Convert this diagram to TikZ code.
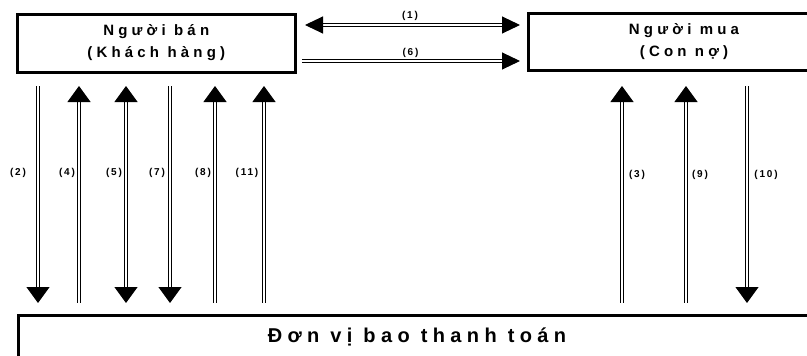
\documentclass[tikz,border=0pt]{standalone}
\usepackage{fontspec}
\setmainfont{Liberation Sans}
\newfontfamily\spacedtitle[LetterSpace=28]{Liberation Sans}
\newfontfamily\spacedbig[LetterSpace=27]{Liberation Sans}
\newfontfamily\spacedlabel[LetterSpace=18]{Liberation Sans}
\usetikzlibrary{arrows.meta}

\tikzset{
  box/.style={draw, line width=3pt, inner sep=0pt, align=center},
  titletext/.style={font=\spacedtitle\bfseries\fontsize{15}{22}\selectfont},
  bigtext/.style={font=\spacedbig\bfseries\fontsize{20}{22}\selectfont},
  lab/.style={font=\spacedlabel\bfseries\fontsize{10}{10}\selectfont, inner sep=0pt},
  flow/.style={draw, double, double distance=1.3pt, line width=1pt},
  vflow/.style={flow, >={Triangle[width=23pt,length=16pt]}},
  hflow/.style={flow, >={Triangle[width=17pt,length=18pt]}}
}

\begin{document}
\begin{tikzpicture}[x=1pt,y=-1pt]
\useasboundingbox (0,0) rectangle (807,356);

% the three parties
\node[box, titletext, minimum width=278.5pt, minimum height=58pt]
  (seller) at (156.25,43) {Người bán\\(Khách hàng)};
\node[box, titletext, minimum width=312pt, minimum height=57pt]
  (buyer) at (684,41.5) {Người mua\\(Con nợ)};
\node[box, bigtext, minimum width=798pt, minimum height=44pt]
  (factor) at (417,337) {Đơn vị bao thanh toán};

% end points of the horizontal flows
\coordinate (h1a) at (305,25);  \coordinate (h1b) at (520,25);
\coordinate (h6a) at (302,61);  \coordinate (h6b) at (520,61);

\draw[hflow,<->] (h1a) -- (h1b);
\draw[hflow,->]  (h6a) -- (h6b);
\node[lab] (l1) at (410,16)   {(1)};
\node[lab] (l6) at (410.5,52.5) {(6)};

% end points of the vertical flows
\foreach \n/\x in {2/38,4/79,5/126,7/170,8/215,11/264,3/622,9/686,10/747}{
  \coordinate (t\n) at (\x,86);
  \coordinate (b\n) at (\x,303);
}

\draw[vflow,->]  (t2)  -- (b2);
\draw[vflow,<-]  (t4)  -- (b4);
\draw[vflow,<->] (t5)  -- (b5);
\draw[vflow,->]  (t7)  -- (b7);
\draw[vflow,<-]  (t8)  -- (b8);
\draw[vflow,<-]  (t11) -- (b11);
\draw[vflow,<-]  (t3)  -- (b3);
\draw[vflow,<-]  (t9)  -- (b9);
\draw[vflow,->]  (t10) -- (b10);

% flow numbers
\node[lab] (l2)  at (18,173)  {(2)};
\node[lab] (l4)  at (67,173)  {(4)};
\node[lab] (l5)  at (114,173) {(5)};
\node[lab] (l7)  at (157,173) {(7)};
\node[lab] (l8)  at (203,173) {(8)};
\node[lab] (l11) at (247,173) {(11)};
\node[lab] (l3)  at (637,175) {(3)};
\node[lab] (l9)  at (700,175) {(9)};
\node[lab] (l10) at (766,175) {(10)};
\end{tikzpicture}
\end{document}
